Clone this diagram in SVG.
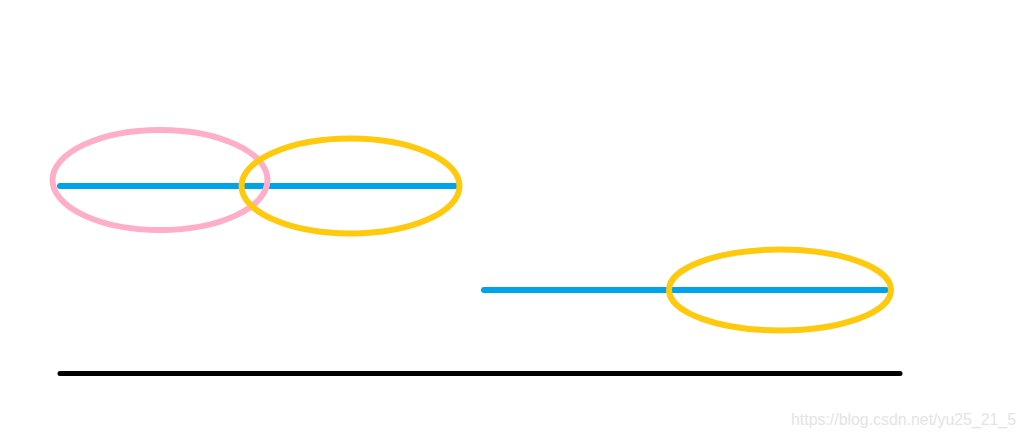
<svg xmlns="http://www.w3.org/2000/svg" width="1026" height="436" viewBox="0 0 1026 436">
<style>
.seg{stroke:#00A2E8;stroke-width:6;stroke-linecap:round;fill:none}
.ring{fill:none;stroke-width:6}
.pink{stroke:#FFAEC9}
.yellow{stroke:#FFC90E}
.wm{font-family:"Liberation Sans",Arial,sans-serif;font-size:16px;fill:#e4e4e4}
</style>
<rect width="1026" height="436" fill="#fff"/>
<g id="connectors">
<line class="seg" x1="60" y1="186" x2="456" y2="186"/>
<line class="seg" x1="484" y1="290" x2="886" y2="290"/>
<line x1="60" y1="373.5" x2="900" y2="373.5" stroke="#000" stroke-width="5" stroke-linecap="round"/>
</g>
<g id="pink-ellipse"><ellipse class="ring pink" cx="160" cy="180" rx="107.5" ry="50"/></g>
<g id="yellow-ellipse-1"><ellipse class="ring yellow" cx="350.5" cy="186" rx="109" ry="47.5"/></g>
<g id="yellow-ellipse-2"><ellipse class="ring yellow" cx="780" cy="290" rx="111" ry="40.5"/></g>
<text class="wm" x="791" y="425" textLength="225" lengthAdjust="spacingAndGlyphs">https://blog.csdn.net/yu25_21_5</text>
</svg>
